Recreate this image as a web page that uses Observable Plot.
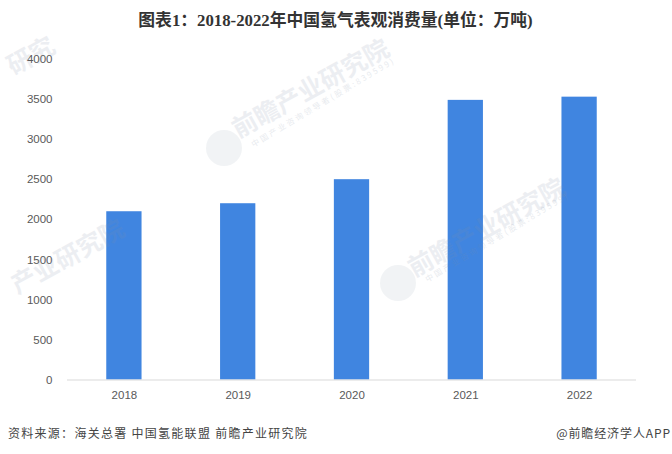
<!DOCTYPE html>
<html><head><meta charset="utf-8">
<script src="https://cdn.jsdelivr.net/npm/d3@7"></script>
<script src="https://cdn.jsdelivr.net/npm/@observablehq/plot@0.6"></script>
<style>
html,body{margin:0;padding:0;background:#fff;}
#page{position:relative;width:672px;height:454px;overflow:hidden;font-family:"Noto Sans CJK SC","Liberation Sans",sans-serif;}
#title{height:40px;line-height:42px;text-align:center;font-size:16.8px;font-weight:700;color:#333;font-family:"Liberation Serif","Noto Sans CJK SC",serif;padding-right:1px;}
#foot{display:flex;justify-content:space-between;font-size:12px;color:#444;padding:14px 1px 0 8px;line-height:18px;letter-spacing:1.28px;}
#chart{position:relative;z-index:1;height:370px;}
#chart svg{display:block;background:transparent;}
.wm{position:absolute;z-index:2;transform:rotate(-29deg);transform-origin:left center;white-space:nowrap;color:#7f8fa6;opacity:.14;font-weight:700;font-size:25px;line-height:24px;pointer-events:none;}
.wm.sub{font-size:8px;font-weight:400;line-height:10px;letter-spacing:2.2px;opacity:.18;transform:rotate(-31deg);}
.logo{position:absolute;z-index:2;width:36px;height:36px;border-radius:50%;background:#7f8fa6;opacity:.11;pointer-events:none;}
</style></head><body>
<div id="page">
<div id="title">图表1：2018-2022年中国氢气表观消费量(单位：万吨)</div>
<div id="chart"></div>
<div id="foot"><span>资料来源：海关总署 中国氢能联盟 前瞻产业研究院</span><span style="letter-spacing:.9px">@前瞻经济学人APP</span></div>
<div class="logo" style="left:206px;top:130px"></div>
<div class="logo" style="left:380px;top:265px"></div>
<div class="wm" style="left:233px;top:117px">前瞻产业研究院</div>
<div class="wm sub" style="left:252px;top:140px">中国产业咨询领导者(股票:839599)</div>
<div class="wm" style="left:409px;top:256px">前瞻产业研究院</div>
<div class="wm sub" style="left:426px;top:275px">中国产业咨询领导者(股票:839599)</div>
<div class="wm" style="left:12px;top:273px">产业研究院</div>
<div class="wm" style="left:8px;top:54px">研究</div>
</div>
<script>
const years = ["2018","2019","2020","2021","2022"];
const consumption = [2100,2200,2500,3490,3530];
const yTicks = [0,500,1000,1500,2000,2500,3000,3500,4000];
const rows = years.map((year,i)=>({year,value:consumption[i]}));
const plot = Plot.plot({
  width:672,height:370,
  marginLeft:67,marginRight:36,marginTop:19,marginBottom:30.5,
  style:{fontFamily:'"Liberation Sans","DejaVu Sans",sans-serif',fontSize:"11.5px",color:"#595959",background:"transparent"},
  x:{domain:years,paddingInner:0.69,paddingOuter:0.345,align:0.5,round:false,label:null,tickSize:0,tickPadding:11},
  y:{domain:[0,4000],ticks:yTicks,label:null,tickSize:0,tickPadding:15,tickFormat:d=>String(d)},
  marks:[
    Plot.barY(rows,{x:"year",y:"value",fill:"#4085E0"}),
    Plot.ruleY([0],{stroke:"#d9d9d9",strokeWidth:1})
  ]
});
document.getElementById("chart").appendChild(plot);
</script>
</body></html>
